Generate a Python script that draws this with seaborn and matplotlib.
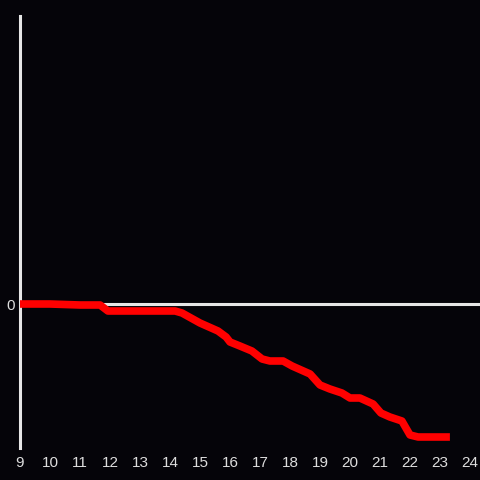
import matplotlib
matplotlib.use("Agg")
import matplotlib.pyplot as plt
import seaborn as sns
import pandas as pd

hours = [9.0, 10.0, 11.0, 11.67, 11.93, 14.17, 14.4, 15.0, 15.6, 15.87, 16.0, 16.33,
         16.73, 17.07, 17.33, 17.77, 18.07, 18.67, 19.0, 19.33, 19.73, 20.0, 20.33,
         20.77, 21.03, 21.33, 21.73, 22.0, 22.27, 23.33]
values = [0.0, 0.0, -0.1, -0.1, -0.7, -0.7, -0.9, -1.9, -2.7, -3.3, -3.8, -4.2,
          -4.7, -5.5, -5.7, -5.7, -6.2, -7.0, -8.1, -8.5, -8.9, -9.4, -9.4,
          -10.0, -10.9, -11.3, -11.7, -13.1, -13.3, -13.3]
xticks = list(range(9, 25))

df = pd.DataFrame({"hour": hours, "value": values})

sns.set_style("dark")
plt.rcParams["font.family"] = ["Liberation Sans", "DejaVu Sans"]
bg = "#050409"
fig = plt.figure(figsize=(4.8, 4.8), dpi=100, facecolor=bg)
ax = fig.add_axes([20/480, 32/480, 460/480, 432/480])
ax.set_facecolor(bg)

ax.axhline(0, color="#e6e6e6", lw=2.2, zorder=1)
sns.lineplot(data=df, x="hour", y="value", ax=ax, color="#ff0000", lw=5.5,
             zorder=3, solid_capstyle="butt", solid_joinstyle="round")

ax.set_xlim(9, 9 + 460/30)
ax.set_ylim(-14.4, 28.8)
ax.set_xticks(xticks)
ax.set_xticklabels([str(t) for t in xticks])
ax.set_yticks([0])
ax.set_yticklabels(["0"])
ax.tick_params(axis="both", length=0, colors="#dddddd", labelsize=11)
ax.tick_params(axis="x", pad=6)
ax.tick_params(axis="y", pad=4)
ax.set_xlabel("")
ax.set_ylabel("")
ax.grid(False)
for s in ["top", "right", "bottom"]:
    ax.spines[s].set_visible(False)
ax.spines["left"].set_visible(True)
ax.spines["left"].set_color("#e6e6e6")
ax.spines["left"].set_linewidth(2.2)

fig.savefig("out.png", dpi=100, facecolor=bg)
